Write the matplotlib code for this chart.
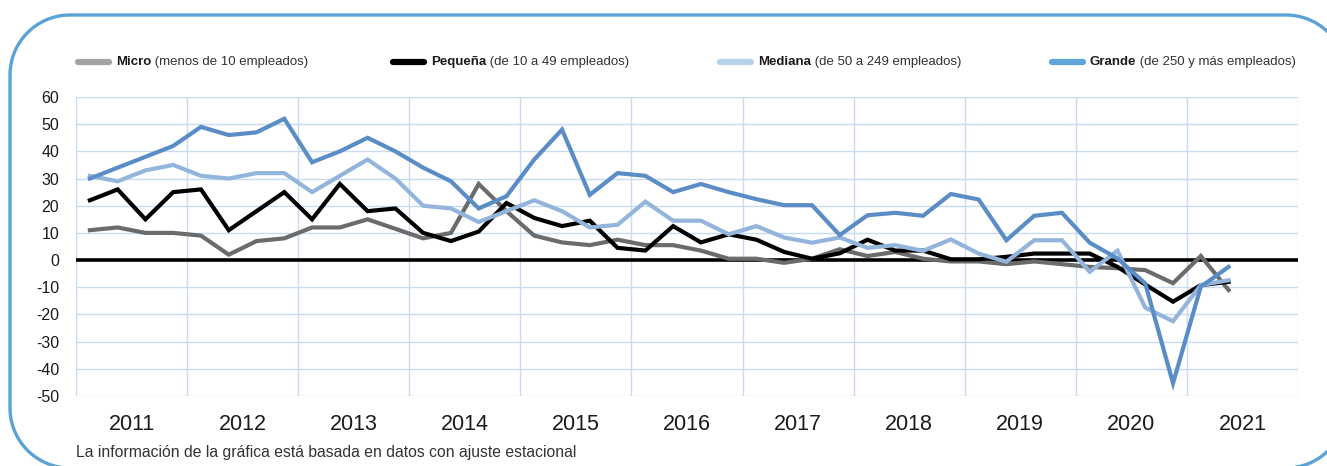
import matplotlib.pyplot as plt
import numpy as np
from matplotlib.lines import Line2D
from matplotlib.transforms import Affine2D

plt.rcParams['font.family'] = ['Liberation Sans', 'DejaVu Sans']
plt.rcParams['axes.unicode_minus'] = False

# quarterly series
micro = [11, 12, 10, 10, 9, 2, 7, 8, 12, 12, 15, 11.5, 8, 10, 28, 18, 9, 6.5, 5.5, 7.5,
         5.5, 5.5, 3.5, 0.5, 0.5, -1, 0.5, 4, 1.5, 3, 0.5, -0.5, -0.5, -1.5, -0.5, -1.5,
         -2.5, -3, -3.7, -8.5, 1.5, -11]
pequena = [22, 26, 15, 25, 26, 11, 18, 25, 15, 28, 18, 19, 10, 7, 10.5, 21, 15.5, 12.5, 14.5, 4.5,
           3.5, 12.5, 6.5, 9.5, 7.5, 3, 0.5, 2.5, 7.5, 3.5, 3.5, 0.3, 0.3, 1.2, 2.4, 2.4,
           2.4, -2.5, -9, -15.3, -9.2, -8]
mediana = [31, 29, 33, 35, 31, 30, 32, 32, 25, 31, 37, 30, 20, 19, 14, 18, 22, 18, 12, 13,
           21.5, 14.5, 14.5, 9.5, 12.5, 8.3, 6.4, 8.3, 4.5, 5.5, 3.4, 7.6, 2.4, -0.6, 7.3, 7.3,
           -4.3, 3.5, -17.5, -22.5, -9.2, -7.4]
grande = [30, 34, 38, 42, 49, 46, 47, 52, 36, 40, 45, 40, 34, 29, 19, 23.5, 37, 48, 24, 32,
          31, 25, 28, 25, 22.4, 20.2, 20.2, 9.2, 16.5, 17.4, 16.3, 24.3, 22.3, 7.3, 16.3, 17.4,
          6.4, 0.6, -8.6, -45.3, -9.8, -2.5]
years = ['2011', '2012', '2013', '2014', '2015', '2016', '2017', '2018', '2019', '2020', '2021']

names_bold = ['Micro', 'Pequeña', 'Mediana', 'Grande']
names_rest = [' (menos de 10 empleados)', ' (de 10 a 49 empleados)',
              ' (de 50 a 249 empleados)', ' (de 250 y más empleados)']
line_colors = ['#6b6b6b', '#000000', '#93b5db', '#5a8dc6']
legend_colors = ['#a3a3a3', '#000000', '#b9d2ec', '#5ea6da']

W, H = 1327, 466
fig = plt.figure(figsize=(W / 100, H / 100), dpi=100)
ax = fig.add_axes([76 / W, 1 - 396 / H, (1298 - 76) / W, (396 - 97) / H])

n_slots = 4 * len(years)
for vals, c in zip([micro, pequena, mediana, grande], line_colors):
    ax.plot(np.arange(len(vals)), vals, color=c, lw=3, solid_joinstyle='miter', zorder=3)

ax.axhline(0, color='black', lw=2.6, zorder=2)

ax.set_xlim(-0.5, n_slots - 0.5)
ax.set_ylim(-50, 60)
ax.set_yticks(np.arange(-50, 61, 10))
ax.set_xticks(np.arange(1.5, n_slots, 4))
ax.set_xticklabels(years, fontsize=15.5, color='#1a1a1a')
ax.set_xticks(np.arange(-0.5, n_slots, 4), minor=True)
ax.tick_params(axis='x', which='both', length=0, pad=13)
ax.tick_params(axis='y', length=0, pad=12, labelsize=11.5, labelcolor='#1a1a1a')
ax.grid(axis='y', color='#c8dcf1', lw=1)
ax.grid(axis='x', which='minor', color='#c8dcf1', lw=1)
for s in ax.spines.values():
    s.set_visible(False)

# pixel coordinates, origin bottom-left
px = Affine2D().scale(1 / W, 1 / H) + fig.transFigure

# legend drawn by hand so the name is bold and the rest is not
sw_x = [78, 393, 720, 1052]
ly = H - 62
for x0, nb, nr, c in zip(sw_x, names_bold, names_rest, legend_colors):
    fig.add_artist(Line2D([x0, x0 + 31], [ly, ly], transform=px, color=c, lw=4.5,
                          solid_capstyle='round'))
    t = fig.text(x0 + 38, ly, nb, transform=px, fontsize=9.5, fontweight='bold',
                 va='center', color='#1a1a1a')
    ax.annotate(nr, xy=(1, 0.5), xycoords=t, va='center', ha='left', fontsize=9.5,
                color='#333333', annotation_clip=False)

fig.text(76, H - 452, 'La información de la gráfica está basada en datos con ajuste estacional',
         transform=px, fontsize=11.3, color='#333333', va='center')

# rounded frame; right and bottom sides run off the image
left, right, top, bottom, r = 10, 1346, H - 15, -2, 60
corners = [(right - r, top - r, 0, 90), (left + r, top - r, 90, 180),
           (left + r, bottom + r, 180, 270), (right - r, bottom + r, 270, 360)]
fx, fy = [], []
for cx, cy, a0, a1 in corners:
    a = np.radians(np.linspace(a0, a1, 30))
    fx.extend(cx + r * np.cos(a))
    fy.extend(cy + r * np.sin(a))
fx.append(fx[0])
fy.append(fy[0])
fig.add_artist(Line2D(fx, fy, transform=px, color='#5ba3d6', lw=2.4))

fig.savefig('out.png', dpi=100)
